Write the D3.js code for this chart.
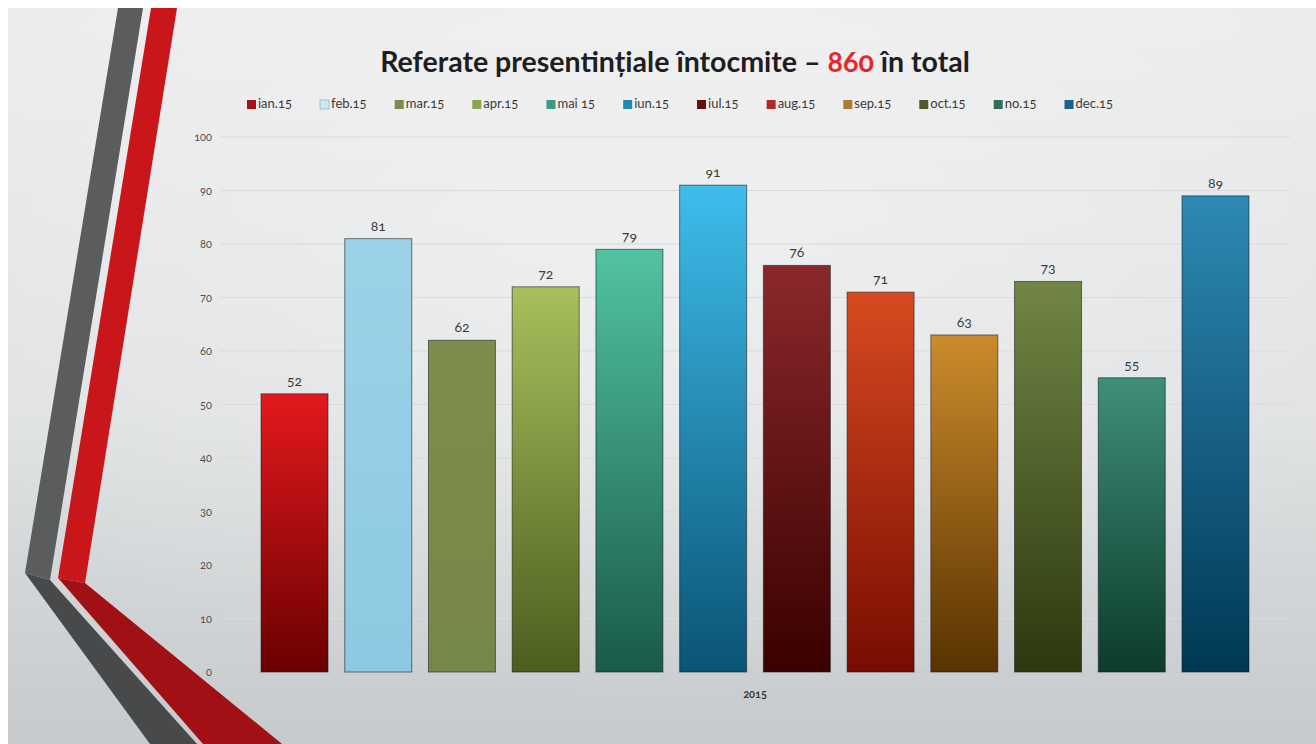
<!DOCTYPE html>
<html>
<head>
<meta charset="utf-8">
<script src="https://cdn.jsdelivr.net/npm/d3@7/dist/d3.min.js"></script>
<style>
  html, body { margin: 0; padding: 0; background: #ffffff; }
  svg { display: block; }
  text { font-family: Lato, "Open Sans", sans-serif; font-variant-numeric: oldstyle-nums; font-feature-settings: "onum" 1; }
</style>
</head>
<body>
<svg id="chart" width="1316" height="744"></svg>
<script>
// ---- data ----
const categories = ["2015"];
const seriesNames = ["ian.15", "feb.15", "mar.15", "apr.15", "mai 15", "iun.15", "iul.15", "aug.15", "sep.15", "oct.15", "no.15", "dec.15"];
const seriesValues = [52, 81, 62, 72, 79, 91, 76, 71, 63, 73, 55, 89];
const yTicks = [0, 10, 20, 30, 40, 50, 60, 70, 80, 90, 100];
const titleParts = ["Referate presentințiale întocmite – ", "860", " în total"];
// gradient colours per bar [top, bottom] and legend swatch colour
const barTop    = ["#e3191e", "#9cd2e8", "#7d8d4b", "#a8c05c", "#52c3a2", "#3fbdec", "#8a282c", "#d84a20", "#cc8c2c", "#718646", "#3f8e7a", "#2e89b4"];
const barBottom = ["#6a0000", "#8dc9e2", "#76874a", "#4a5e1e", "#1a5a4a", "#0a5474", "#3a0000", "#780c02", "#583200", "#2c380e", "#0c3c2b", "#003854"];
const legendColors = ["#a8121a", "#cfe8f2", "#7b8b4a", "#8ca352", "#3a9c80", "#2389b2", "#6a0d0d", "#b52626", "#b07b32", "#4d5b2f", "#2f6e5a", "#1b618a"];

const svg = d3.select("#chart");
const W = 1316, H = 744;
const defs = svg.append("defs");

// background
const bg = defs.append("linearGradient").attr("id", "bg").attr("x1", 0).attr("y1", 0).attr("x2", 0).attr("y2", 1);
bg.append("stop").attr("offset", "0%").attr("stop-color", "#ededee");
bg.append("stop").attr("offset", "55%").attr("stop-color", "#e0e2e3");
bg.append("stop").attr("offset", "100%").attr("stop-color", "#c6cacc");
svg.append("rect").attr("x", 8).attr("y", 8).attr("width", W - 8).attr("height", H - 8).attr("fill", "url(#bg)");
const glow = defs.append("radialGradient").attr("id", "glow").attr("cx", "50%").attr("cy", "35%").attr("r", "60%");
glow.append("stop").attr("offset", "0%").attr("stop-color", "#ffffff").attr("stop-opacity", 0.35);
glow.append("stop").attr("offset", "100%").attr("stop-color", "#ffffff").attr("stop-opacity", 0);
svg.append("rect").attr("x", 8).attr("y", 8).attr("width", W - 8).attr("height", H - 8).attr("fill", "url(#glow)");

// decorative stripes
const deco = svg.append("g");
const line = d3.line();
deco.append("path").attr("d", line([[118, 8], [143, 8], [50, 580], [25, 573]]) + "Z").attr("fill", "#5b5c5e");
deco.append("path").attr("d", line([[25, 573], [50, 580], [197, 744], [150, 744]]) + "Z").attr("fill", "#48494b");
deco.append("path").attr("d", line([[151, 8], [177, 8], [85, 583], [58, 578]]) + "Z").attr("fill", "#c8161b");
deco.append("path").attr("d", line([[58, 578], [85, 583], [282, 744], [203, 744]]) + "Z").attr("fill", "#a11014");

// scales
const x0 = d3.scaleBand().domain(categories).range([220, 1290]).padding(0);
const x = d3.scaleBand().domain(seriesNames).range([x0("2015"), x0("2015") + x0.bandwidth()])
  .paddingInner(0.2).paddingOuter(0.49);
const y = d3.scaleLinear().domain([0, 100]).range([672, 137]);

// gridlines
svg.append("g").selectAll("line").data(yTicks).join("line")
  .attr("x1", 220).attr("x2", 1290)
  .attr("y1", d => y(d)).attr("y2", d => y(d))
  .attr("stroke", d => d === 0 ? "#c9cbcc" : "#d9dbdc").attr("stroke-width", 1);

// y axis labels
const yAxis = d3.axisLeft(y).tickValues(yTicks).tickSize(0).tickPadding(0);
const ya = svg.append("g").attr("transform", "translate(212,0)").call(yAxis);
ya.select(".domain").remove();
ya.selectAll("text").attr("font-size", 11).attr("fill", "#505050").attr("font-family", "Lato, 'Open Sans', sans-serif");

// x axis (category)
const xAxis = d3.axisBottom(x0).tickSize(0).tickPadding(0);
const xa = svg.append("g").attr("transform", "translate(0,690)").call(xAxis);
xa.select(".domain").remove();
xa.selectAll("text").attr("font-size", 11).attr("font-weight", "bold").attr("fill", "#3a3a3a").attr("font-family", "Lato, 'Open Sans', sans-serif");

// bar gradients
seriesNames.forEach((s, i) => {
  const g = defs.append("linearGradient").attr("id", "bar" + i).attr("x1", 0).attr("y1", 0).attr("x2", 0).attr("y2", 1);
  g.append("stop").attr("offset", "0%").attr("stop-color", barTop[i]);
  g.append("stop").attr("offset", "100%").attr("stop-color", barBottom[i]);
});

const bars = svg.append("g");
bars.selectAll("rect").data(seriesValues).join("rect")
  .attr("x", (d, i) => x(seriesNames[i]))
  .attr("y", d => y(d))
  .attr("width", x.bandwidth())
  .attr("height", d => y(0) - y(d))
  .attr("fill", (d, i) => "url(#bar" + i + ")")
  .attr("stroke", "rgba(20,20,20,0.55)")
  .attr("stroke-width", 1);

// value labels
svg.append("g").selectAll("text").data(seriesValues).join("text")
  .attr("x", (d, i) => x(seriesNames[i]) + x.bandwidth() / 2)
  .attr("y", d => y(d) - 8)
  .attr("text-anchor", "middle")
  .attr("font-size", 14)
  .attr("fill", "#3c3c3c")
  .text(d => d);

// title
const title = svg.append("text").attr("x", 675).attr("y", 72).attr("text-anchor", "middle")
  .attr("font-size", 24).attr("font-weight", "bold").attr("fill", "#1e1e1e");
title.selectAll("tspan").data(titleParts).join("tspan")
  .attr("fill", (d, i) => i === 1 ? "#e8262a" : "#1e1e1e")
  .text(d => d);
const tw = title.node().getComputedTextLength();
title.attr("font-size", 24 * 590 / tw);

// legend
const legend = svg.append("g");
const items = legend.selectAll("g").data(seriesNames).join("g");
items.append("rect").attr("width", 9).attr("height", 9).attr("y", -8)
  .attr("fill", (d, i) => legendColors[i])
  .attr("stroke", (d, i) => i === 1 ? "#8fb8c8" : "none").attr("stroke-width", 0.8);
items.append("text").attr("x", 11).attr("y", 0).attr("font-size", 13).attr("fill", "#3a3a3a").text(d => d);
const widths = [];
items.each(function() { widths.push(11 + d3.select(this).select("text").node().getComputedTextLength()); });
const targetTotal = 866;
const gap = (targetTotal - d3.sum(widths)) / (seriesNames.length - 1);
let cx = 680 - targetTotal / 2;
items.each(function(d, i) {
  d3.select(this).attr("transform", `translate(${cx},108)`);
  cx += widths[i] + gap;
});
</script>
</body>
</html>
